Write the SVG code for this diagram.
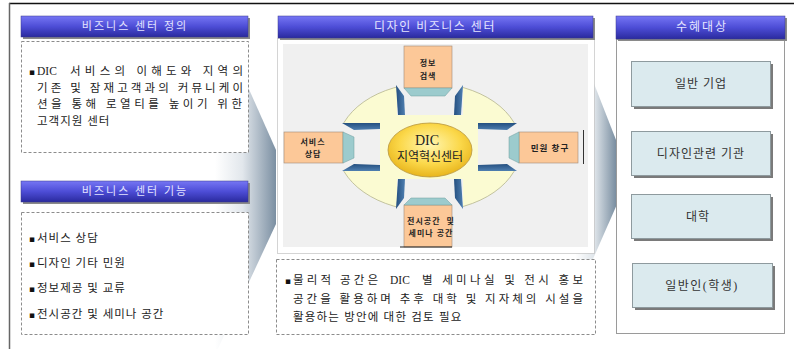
<svg xmlns="http://www.w3.org/2000/svg" width="794" height="349" viewBox="0 0 794 349">
<defs>
<linearGradient id="hdr" x1="0" y1="0" x2="0" y2="1">
<stop offset="0" stop-color="#7676f4"/>
<stop offset="0.5" stop-color="#4d4dd6"/>
<stop offset="1" stop-color="#2a2a9e"/>
</linearGradient>
<linearGradient id="funL" x1="215" y1="0" x2="276" y2="0" gradientUnits="userSpaceOnUse">
<stop offset="0" stop-color="#ffffff"/>
<stop offset="0.45" stop-color="#e2e7ec"/>
<stop offset="1" stop-color="#7b8fa2"/>
</linearGradient>
<linearGradient id="funR" x1="575" y1="0" x2="618" y2="0" gradientUnits="userSpaceOnUse">
<stop offset="0" stop-color="#ffffff"/>
<stop offset="0.45" stop-color="#dfe5ea"/>
<stop offset="1" stop-color="#70869a"/>
</linearGradient>
<radialGradient id="gold" cx="0.5" cy="0.4" r="0.6">
<stop offset="0" stop-color="#fff6b0"/>
<stop offset="0.6" stop-color="#fbd84a"/>
<stop offset="1" stop-color="#e8b51c"/>
</radialGradient>
<linearGradient id="wallV" x1="0" y1="0" x2="1" y2="0">
<stop offset="0" stop-color="#244f80"/>
<stop offset="1" stop-color="#4f7fb0"/>
</linearGradient>
<linearGradient id="wallH" x1="0" y1="0" x2="0" y2="1">
<stop offset="0" stop-color="#244f80"/>
<stop offset="1" stop-color="#4f7fb0"/>
</linearGradient>
</defs>
<style>
.hdrshadow{fill:#8a8a8a}
.hdr{fill:url(#hdr);stroke:#3a3a8a;stroke-width:0.5}
.htxt{font-family:"Liberation Serif","Noto Sans CJK KR",serif;font-size:11px;fill:#e4e4ff;text-anchor:middle;letter-spacing:2px}
.dash{fill:#ffffff;stroke:#8c8c8c;stroke-width:1;stroke-dasharray:3 2}
.body{font-family:"Liberation Serif","Noto Sans CJK KR",serif;font-size:11.5px;fill:#222222}
.bul{font-family:"DejaVu Sans",sans-serif;font-size:9px;fill:#111111}
.orange{fill:#fcc898;stroke:#a08a78;stroke-width:0.6}
.teal{fill:#9ccbcd;stroke:#6f9c9e;stroke-width:0.5}
.small{font-family:"Liberation Serif","Noto Sans CJK KR",serif;font-size:8px;font-weight:bold;fill:#222222;text-anchor:middle;letter-spacing:1px}
.tbox{fill:#dbeaee;stroke:#8e9a9e;stroke-width:1}
.tshadow{fill:#7a7a7a}
.ttxt{font-family:"Liberation Serif","Noto Sans CJK KR",serif;font-size:12px;fill:#333333;text-anchor:middle;letter-spacing:1px}
</style>

<!-- frame -->
<g id="frame">
<line x1="9" y1="3.5" x2="794" y2="3.5" stroke="#111111" stroke-width="1.5"/>
<line x1="9.5" y1="3" x2="9.5" y2="349" stroke="#666666" stroke-width="1.5"/>
</g>

<!-- callout funnels -->
<g id="funnels">
<polygon points="215,13 276,150 276,224 215,355" fill="url(#funL)"/>
<polygon points="575,35 618,145 618,202 575,300" fill="url(#funR)"/>
</g>

<!-- left panel -->
<g id="definition">
<rect class="hdrshadow" x="23" y="18" width="227" height="21"/>
<rect class="hdr" x="21" y="16" width="227" height="21"/>
<text class="htxt" x="135" y="30">비즈니스 센터 정의</text>
<rect class="dash" x="21.5" y="41.5" width="227" height="111"/>
<text class="bul" x="29" y="75">▪</text>
<text class="body" y="75"><tspan x="37">DIC</tspan> <tspan x="70" textLength="173" lengthAdjust="spacing">서비스의 이해도와 지역의</tspan></text>
<text class="body" x="37" y="91.5" textLength="206" lengthAdjust="spacing">기존 및 잠재고객과의 커뮤니케이</text>
<text class="body" x="37" y="108" textLength="205" lengthAdjust="spacing">션을 통해 로열티를 높이기 위한</text>
<text class="body" x="37" y="124.5" letter-spacing="1">고객지원 센터</text>
</g>

<g id="function">
<rect class="hdrshadow" x="23" y="183" width="227" height="21"/>
<rect class="hdr" x="21" y="181" width="227" height="21"/>
<text class="htxt" x="135" y="195">비즈니스 센터 기능</text>
<rect class="dash" x="21.5" y="212.5" width="227" height="122"/>
<text class="bul" x="29" y="242">▪</text>
<text class="body" x="37" y="242" letter-spacing="1">서비스 상담</text>
<text class="bul" x="29" y="267">▪</text>
<text class="body" x="37" y="267" letter-spacing="1">디자인 기타 민원</text>
<text class="bul" x="29" y="292">▪</text>
<text class="body" x="37" y="292" letter-spacing="1">정보제공 및 교류</text>
<text class="bul" x="29" y="318">▪</text>
<text class="body" x="37" y="318" letter-spacing="1">전시공간 및 세미나 공간</text>
</g>

<!-- center panel -->
<g id="center-panel">
<rect x="277.5" y="38.5" width="317" height="215" fill="#ffffff" stroke="#a8a8a8" stroke-width="1" stroke-dasharray="1 1"/>
<rect class="hdrshadow" x="280" y="18" width="315" height="22"/>
<rect class="hdr" x="278" y="16" width="315" height="22"/>
<text class="htxt" x="435" y="31" style="font-size:12px;letter-spacing:1.5px">디자인 비즈니스 센터</text>
<rect x="283" y="44" width="305" height="203" fill="#f0f0f0"/>
</g>

<g id="hub">
<ellipse cx="429" cy="147" rx="92" ry="64" fill="#fbfbd2" stroke="#b5b58e" stroke-width="0.8"/>
<rect x="397" y="78" width="66" height="37" fill="#f0f0f0"/>
<rect x="397" y="179" width="66" height="37" fill="#f0f0f0"/>
<rect x="330" y="123" width="50" height="48" fill="#f0f0f0"/>
<rect x="478" y="123" width="50" height="48" fill="#f0f0f0"/>
<polygon points="396,85 404,96 405,115 398,115" fill="url(#wallV)"/>
<polygon points="463,85 455,96 454,115 461,115" fill="url(#wallV)"/>
<polygon points="398,179 405,179 404,198 396,209" fill="url(#wallV)"/>
<polygon points="461,179 454,179 455,198 463,209" fill="url(#wallV)"/>
<polygon points="342,123 380,123 380,129 354,130" fill="url(#wallH)"/>
<polygon points="354,164 380,165 380,171 342,171" fill="url(#wallH)"/>
<polygon points="478,123 517,123 507,130 478,129" fill="url(#wallH)"/>
<polygon points="478,165 507,164 517,171 478,171" fill="url(#wallH)"/>
</g>

<g id="dic-center">
<ellipse cx="430" cy="150" rx="42" ry="27" fill="url(#gold)" stroke="#b8963c" stroke-width="0.8"/>
<text x="427" y="145" font-family="Liberation Serif,serif" font-size="14" fill="#222222" text-anchor="middle">DIC</text>
<text x="430" y="161" font-family="Liberation Serif,'Noto Sans CJK KR',serif" font-size="12" fill="#222222" text-anchor="middle">지역혁신센터</text>
</g>

<g id="info-search">
<rect class="orange" x="404" y="46" width="48" height="42"/>
<polygon class="teal" points="404,88 452,88 445,96 411,96"/>
<text class="small" x="428" y="66">정보</text>
<text class="small" x="428" y="79">검색</text>
</g>

<g id="service-consult">
<rect class="orange" x="284" y="132" width="59" height="31"/>
<polygon class="teal" points="343,132 354,137 354,158 343,163"/>
<text class="small" x="313" y="145">서비스</text>
<text class="small" x="313" y="157">상담</text>
</g>

<g id="civil-window">
<rect class="orange" x="519" y="132" width="59" height="31"/>
<polygon class="teal" points="519,132 509,137 509,158 519,163"/>
<text class="small" x="550" y="151" style="font-size:8.5px">민원 창구</text>
<line x1="583.5" y1="130" x2="583.5" y2="164" stroke="#333333" stroke-width="1"/>
</g>

<g id="exhibit-space">
<rect class="orange" x="404" y="205" width="48" height="42"/>
<polygon class="teal" points="411,198 445,198 452,205 404,205"/>
<line x1="400" y1="247" x2="452" y2="247" stroke="#222222" stroke-width="1.2"/>
<text class="small" x="431" y="224">전시공간 &#160;및</text>
<text class="small" x="431" y="236">세미나 공간</text>
</g>

<g id="center-note">
<rect class="dash" x="276.5" y="259.5" width="319" height="75"/>
<text class="bul" x="285" y="284">▪</text>
<text class="body" y="284"><tspan x="293" textLength="85" lengthAdjust="spacing">물리적 공간은</tspan> <tspan x="390">DIC</tspan> <tspan x="422" textLength="161" lengthAdjust="spacing">별 세미나실 및 전시 홍보</tspan></text>
<text class="body" x="293" y="302.5" textLength="290" lengthAdjust="spacing">공간을 활용하며 추후 대학 및 지자체의 시설을</text>
<text class="body" x="293" y="321" letter-spacing="1.2">활용하는 방안에 대한 검토 필요</text>
</g>

<!-- right panel -->
<g id="beneficiaries">
<rect x="616.5" y="39.5" width="168" height="294" fill="#ffffff" stroke="#9a9a9a" stroke-width="1"/>
<rect class="hdrshadow" x="618" y="18" width="169" height="23"/>
<rect class="hdr" x="616" y="16" width="169" height="23"/>
<text class="htxt" x="702" y="31" style="font-size:12px;letter-spacing:2px">수혜대상</text>
</g>

<g id="general-company">
<rect class="tshadow" x="634" y="64" width="139" height="45"/>
<rect class="tbox" x="631.5" y="61.5" width="139" height="45"/>
<text class="ttxt" x="701" y="88">일반 기업</text>
</g>
<g id="design-org">
<rect class="tshadow" x="634" y="134" width="139" height="44"/>
<rect class="tbox" x="631.5" y="131.5" width="139" height="44"/>
<text class="ttxt" x="701" y="158">디자인관련 기관</text>
</g>
<g id="university">
<rect class="tshadow" x="634" y="197" width="139" height="44"/>
<rect class="tbox" x="631.5" y="194.5" width="139" height="44"/>
<text class="ttxt" x="698" y="221">대학</text>
</g>
<g id="general-public">
<rect class="tshadow" x="635" y="266" width="140" height="44"/>
<rect class="tbox" x="632.5" y="263.5" width="140" height="44"/>
<text class="ttxt" x="702" y="290" style="letter-spacing:1.5px">일반인(학생)</text>
</g>
</svg>
